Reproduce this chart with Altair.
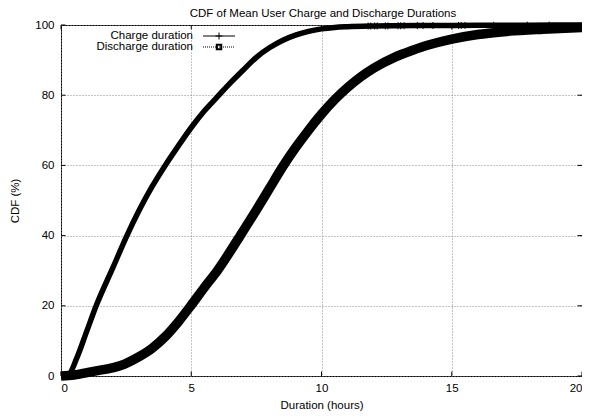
import altair as alt
import pandas as pd

# ---- data ----
chart_title = "CDF of Mean User Charge and Discharge Durations"
series_names = ["Charge duration", "Discharge duration"]

charge_x = [0, 0.3, 0.6, 1.0, 1.35, 2.0, 2.5, 3.0, 3.5, 4.0, 4.5, 5.0, 5.5, 6.0, 6.5,
            7.0, 7.5, 8.0, 8.5, 9.0, 9.5, 10.0, 10.5, 11.0, 12.0, 14.0, 16.0, 18.0, 20.0]
charge_y = [0, 0.5, 5, 13, 20, 31, 39.5, 47.2, 54, 60, 65.5, 70.8, 75.5, 79.5, 83.5,
            87.2, 90.8, 93.5, 95.6, 97.1, 98.2, 98.9, 99.3, 99.5, 99.7, 99.85, 99.9, 99.95, 100]

# sparse "+" markers visible on the charge tail
tail_x = [11.79, 11.89, 12.04, 12.14, 12.45, 12.55, 12.94, 13.04, 13.17, 13.68,
          13.9, 14.28, 15.26, 15.36, 15.51, 16.61, 17.9, 18.74]
tail_y = [99.7, 99.7, 99.72, 99.72, 99.75, 99.75, 99.78, 99.78, 99.8, 99.82,
          99.84, 99.85, 99.88, 99.88, 99.89, 99.9, 99.94, 99.96]

discharge_x = [0, 0.5, 1.15, 2.44, 3.0, 3.5, 4.0, 4.5, 5.0, 5.5, 6.0, 6.88, 7.5, 8.0,
               8.5, 9.0, 9.5, 10.0, 10.5, 11.0, 11.5, 12.0, 12.8, 13.5, 14.1, 15.0,
               16.0, 17.0, 18.5, 20.0]
discharge_y = [0, 0.3, 1.2, 3.4, 5.5, 7.9, 11.2, 15.4, 20.2, 25.2, 30, 40, 47.3, 53.4,
               59.5, 65, 70, 74.6, 78.7, 82.2, 85.2, 87.7, 90.8, 92.8, 94.3, 96.0,
               97.3, 98.1, 98.8, 99.3]

x_ticks = [0, 5, 10, 15, 20]
y_ticks = [0, 20, 40, 60, 80, 100]

FONT = "Liberation Sans"
FS = 11.5
PLUS = "M-1,0L1,0M0,-1L0,1"
W, H = 521, 351

charge_df = pd.DataFrame({"x": charge_x, "y": charge_y})
tail_df = pd.DataFrame({"x": tail_x, "y": tail_y})
discharge_df = pd.DataFrame({"x": discharge_x, "y": discharge_y})
xt_df = pd.DataFrame({"x": x_ticks})
yt_df = pd.DataFrame({"y": y_ticks})

xs = alt.Scale(domain=[0, 20], nice=False, zero=False)
ys = alt.Scale(domain=[0, 100], nice=False)

xenc = alt.X("x:Q", scale=xs,
             axis=alt.Axis(values=x_ticks, title="Duration (hours)", titleY=29,
                           titleBaseline="middle", labelPadding=6))
yenc = alt.Y("y:Q", scale=ys,
             axis=alt.Axis(values=y_ticks, title="CDF (%)", titleX=-46, titleY=H / 2,
                           titleAngle=270, titleBaseline="middle", titleAlign="center",
                           labelPadding=7))

discharge = alt.Chart(discharge_df).mark_line(
    color="black", strokeWidth=9.5, interpolate="monotone", strokeCap="butt"
).encode(x=xenc, y=yenc)

charge = alt.Chart(charge_df).mark_line(
    color="black", strokeWidth=5.5, interpolate="monotone", strokeCap="butt"
).encode(x="x:Q", y="y:Q")

tail = alt.Chart(tail_df).mark_point(
    shape=PLUS, size=49, color="black", filled=False, strokeWidth=1, opacity=1
).encode(x="x:Q", y="y:Q")

# inward ticks on all four borders (gnuplot style)
tick_style = dict(color="black", thickness=1, size=4.5, opacity=1)
xt_bottom = alt.Chart(xt_df).mark_tick(**tick_style).encode(x="x:Q", y=alt.value(H - 2.25))
xt_top = alt.Chart(xt_df).mark_tick(**tick_style).encode(x="x:Q", y=alt.value(2.25))
yt_left = alt.Chart(yt_df).mark_tick(**tick_style).encode(y="y:Q", x=alt.value(2.25))
yt_right = alt.Chart(yt_df).mark_tick(**tick_style).encode(y="y:Q", x=alt.value(W - 2.25))

# ---- title as text (kept inside the drawing area) ----
title_mark = alt.Chart(alt.Data(values=[{"t": chart_title}])).mark_text(
    align="center", baseline="alphabetic", font=FONT, fontSize=FS, color="black"
).encode(x=alt.value(262), y=alt.value(-8.5), text="t:N")

# ---- legend (inside plot, top-left, gnuplot style) ----
leg_text1 = alt.Chart(alt.Data(values=[{"t": series_names[0]}])).mark_text(
    align="right", baseline="middle", font=FONT, fontSize=FS, color="black"
).encode(x=alt.value(132), y=alt.value(11), text="t:N")
leg_text2 = alt.Chart(alt.Data(values=[{"t": series_names[1]}])).mark_text(
    align="right", baseline="middle", font=FONT, fontSize=FS, color="black"
).encode(x=alt.value(132), y=alt.value(22), text="t:N")
leg_line1 = alt.Chart(alt.Data(values=[{}])).mark_rule(color="black", strokeWidth=1).encode(
    x=alt.value(142), x2=alt.value(174), y=alt.value(11))
leg_line2 = alt.Chart(alt.Data(values=[{}])).mark_rule(
    color="black", strokeWidth=1, strokeDash=[1, 1]).encode(
    x=alt.value(142), x2=alt.value(174), y=alt.value(22))
leg_pt1 = alt.Chart(alt.Data(values=[{}])).mark_point(
    shape=PLUS, size=49, color="black", filled=False, strokeWidth=1, opacity=1).encode(
    x=alt.value(158), y=alt.value(11))
leg_pt2 = alt.Chart(alt.Data(values=[{}])).mark_point(
    shape="square", size=20, color="black", filled=False, strokeWidth=2, opacity=1).encode(
    x=alt.value(158), y=alt.value(22))

chart = alt.layer(
    discharge, charge, tail, xt_bottom, xt_top, yt_left, yt_right, title_mark,
    leg_text1, leg_text2, leg_line1, leg_line2, leg_pt1, leg_pt2
).properties(
    width=W, height=H,
    autosize=alt.AutoSizeParams(type="none"),
    padding={"left": 53, "top": 17, "right": 0, "bottom": 36},
).configure_view(
    stroke="black", strokeWidth=1
).configure_axis(
    domain=False, ticks=False, tickSize=0,
    grid=True, gridColor="#888888", gridDash=[1, 2], gridWidth=1, gridOpacity=1,
    labelFont=FONT, labelFontSize=FS, labelColor="black",
    titleFont=FONT, titleFontSize=FS, titleFontWeight="normal", titleColor="black"
)

chart.save("out.html", embed_options={"renderer": "svg", "actions": False})
